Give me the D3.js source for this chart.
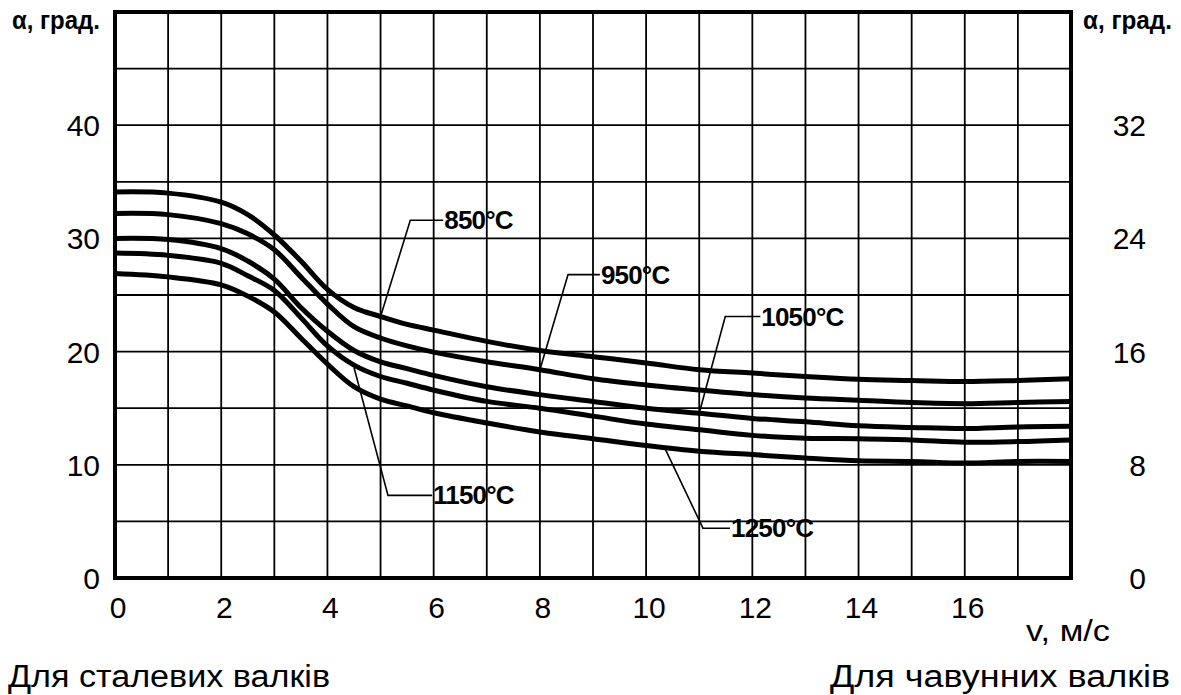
<!DOCTYPE html>
<html>
<head>
<meta charset="utf-8">
<script src="https://cdn.jsdelivr.net/npm/d3@7"></script>
<style>
  body { margin: 0; background: #fff; }
  text { font-family: "Liberation Sans", Arial, sans-serif; fill: #000; }
</style>
</head>
<body>
<div id="chart"></div>
<script>
// швидкість прокатки, м/с
const velocity = [0, 1, 2, 2.5, 3, 3.5, 4, 4.5, 5, 5.5, 6, 7, 8, 9, 10, 11, 12, 13, 14, 15, 16, 17, 18];

// кут захоплення (ліва шкала) для кожної температури
const alpha850  = [34.1, 34.0, 33.2, 32.1, 30.3, 28.0, 25.5, 23.9, 23.1, 22.4, 21.9, 20.9, 20.1, 19.55, 19.0, 18.4, 18.1, 17.8, 17.55, 17.45, 17.35, 17.45, 17.6];
const alpha950  = [32.2, 32.1, 31.3, 30.4, 29.0, 26.6, 24.2, 22.2, 21.2, 20.5, 19.95, 19.1, 18.4, 17.6, 17.05, 16.6, 16.2, 15.9, 15.7, 15.5, 15.4, 15.5, 15.6];
const alpha1050 = [30.0, 29.9, 29.1, 28.0, 26.4, 23.9, 21.8, 20.1, 19.1, 18.5, 17.9, 16.9, 16.2, 15.6, 15.0, 14.55, 14.1, 13.8, 13.45, 13.3, 13.2, 13.35, 13.4];
const alpha1150 = [28.7, 28.5, 27.8, 26.7, 25.4, 23.0, 20.5, 18.8, 17.8, 17.2, 16.6, 15.6, 15.0, 14.3, 13.6, 13.1, 12.6, 12.35, 12.3, 12.2, 12.0, 12.05, 12.2];
const alpha1250 = [26.9, 26.6, 25.9, 24.9, 23.5, 21.2, 18.9, 16.9, 15.8, 15.2, 14.6, 13.7, 12.9, 12.3, 11.7, 11.2, 10.9, 10.6, 10.35, 10.3, 10.15, 10.3, 10.3];

const seriesNames = ["850°C", "950°C", "1050°C", "1150°C", "1250°C"];
const seriesValues = [alpha850, alpha950, alpha1050, alpha1150, alpha1250];

// виноски: точка на кривій, злам, початок підпису
const calloutAnchorV = [5.0, 8.0, 11.0, 4.5, 10.35];
const calloutAnchorA = [23.1, 18.4, 14.55, 18.6, 11.5];
const calloutElbowV  = [5.56, 8.53, 11.49, 5.14, 11.07];
const calloutElbowA  = [31.6, 26.8, 23.1, 7.3, 4.4];
const calloutTextV   = [6.18, 9.13, 12.15, 5.97, 11.58];

const xTicks = [0, 2, 4, 6, 8, 10, 12, 14, 16];
const yTicksLeft = [0, 10, 20, 30, 40];
const yTicksRight = [0, 8, 16, 24, 32];

const width = 1181, height = 695;

const svg = d3.select("#chart").append("svg")
    .attr("width", width)
    .attr("height", height);

svg.append("rect").attr("width", width).attr("height", height).attr("fill", "#fff");

const x = d3.scaleLinear().domain([0, 18]).range([115, 1071]);
const y = d3.scaleLinear().domain([0, 50]).range([578, 12]);
const yRight = d3.scaleLinear().domain([0, 40]).range([578, 12]);

// сітка
const grid = svg.append("g").attr("stroke", "#000").attr("stroke-width", 1.8);
grid.selectAll(".vgrid")
    .data(d3.range(1, 18))
    .enter().append("line")
    .attr("x1", d => x(d)).attr("x2", d => x(d))
    .attr("y1", y(0)).attr("y2", y(50));
grid.selectAll(".hgrid")
    .data(d3.range(5, 50, 5))
    .enter().append("line")
    .attr("x1", x(0)).attr("x2", x(18))
    .attr("y1", d => y(d)).attr("y2", d => y(d));

// криві
const line = d3.line()
    .x((d, i) => x(velocity[i]))
    .y(d => y(d))
    .curve(d3.curveCatmullRom.alpha(0.5));

svg.append("g").selectAll("path")
    .data(seriesValues)
    .enter().append("path")
    .attr("d", d => line(d))
    .attr("fill", "none")
    .attr("stroke", "#000")
    .attr("stroke-width", 5)
    .attr("stroke-linejoin", "round")
    .attr("stroke-linecap", "butt");

// рамка
svg.append("rect")
    .attr("x", x(0)).attr("y", y(50))
    .attr("width", x(18) - x(0)).attr("height", y(0) - y(50))
    .attr("fill", "none").attr("stroke", "#000").attr("stroke-width", 4);

// виноски з підписами температур
const callouts = svg.append("g");
seriesNames.forEach((name, i) => {
    const pts = [
        [x(calloutAnchorV[i]), y(calloutAnchorA[i])],
        [x(calloutElbowV[i]), y(calloutElbowA[i])],
        [x(calloutTextV[i]), y(calloutElbowA[i])]
    ];
    callouts.append("path")
        .attr("d", d3.line()(pts))
        .attr("fill", "none")
        .attr("stroke", "#000")
        .attr("stroke-width", 1.6);
    callouts.append("text")
        .attr("x", x(calloutTextV[i]) + 1)
        .attr("y", y(calloutElbowA[i]) + 9)
        .attr("font-size", 26)
        .attr("font-weight", "bold")
        .attr("letter-spacing", -0.8)
        .text(name);
});

// підписи осей
const tickFont = 30;
svg.append("g").selectAll("text")
    .data(xTicks)
    .enter().append("text")
    .attr("x", d => x(d) + 3)
    .attr("y", 618)
    .attr("text-anchor", "middle")
    .attr("font-size", tickFont)
    .text(d => d);

svg.append("g").selectAll("text")
    .data(yTicksLeft)
    .enter().append("text")
    .attr("x", 100)
    .attr("y", d => y(d) + 11)
    .attr("text-anchor", "end")
    .attr("font-size", tickFont)
    .text(d => d);

svg.append("g").selectAll("text")
    .data(yTicksRight)
    .enter().append("text")
    .attr("x", 1146)
    .attr("y", d => yRight(d) + 11)
    .attr("text-anchor", "end")
    .attr("font-size", tickFont)
    .text(d => d);

svg.append("text")
    .attr("x", 12).attr("y", 29)
    .attr("font-size", 26).attr("font-weight", "bold")
    .attr("textLength", 88).attr("lengthAdjust", "spacingAndGlyphs")
    .text("α, град.");

svg.append("text")
    .attr("x", 1083).attr("y", 29)
    .attr("font-size", 26).attr("font-weight", "bold")
    .attr("textLength", 89).attr("lengthAdjust", "spacingAndGlyphs")
    .text("α, град.");

svg.append("text")
    .attr("x", 1026).attr("y", 641)
    .attr("font-size", tickFont)
    .attr("textLength", 84).attr("lengthAdjust", "spacingAndGlyphs")
    .text("v, м/с");

svg.append("text")
    .attr("x", 8).attr("y", 687)
    .attr("font-size", 31)
    .attr("textLength", 322).attr("lengthAdjust", "spacingAndGlyphs")
    .text("Для сталевих валків");

svg.append("text")
    .attr("x", 830).attr("y", 687)
    .attr("font-size", 31)
    .attr("textLength", 340).attr("lengthAdjust", "spacingAndGlyphs")
    .text("Для чавунних валків");
</script>
</body>
</html>
